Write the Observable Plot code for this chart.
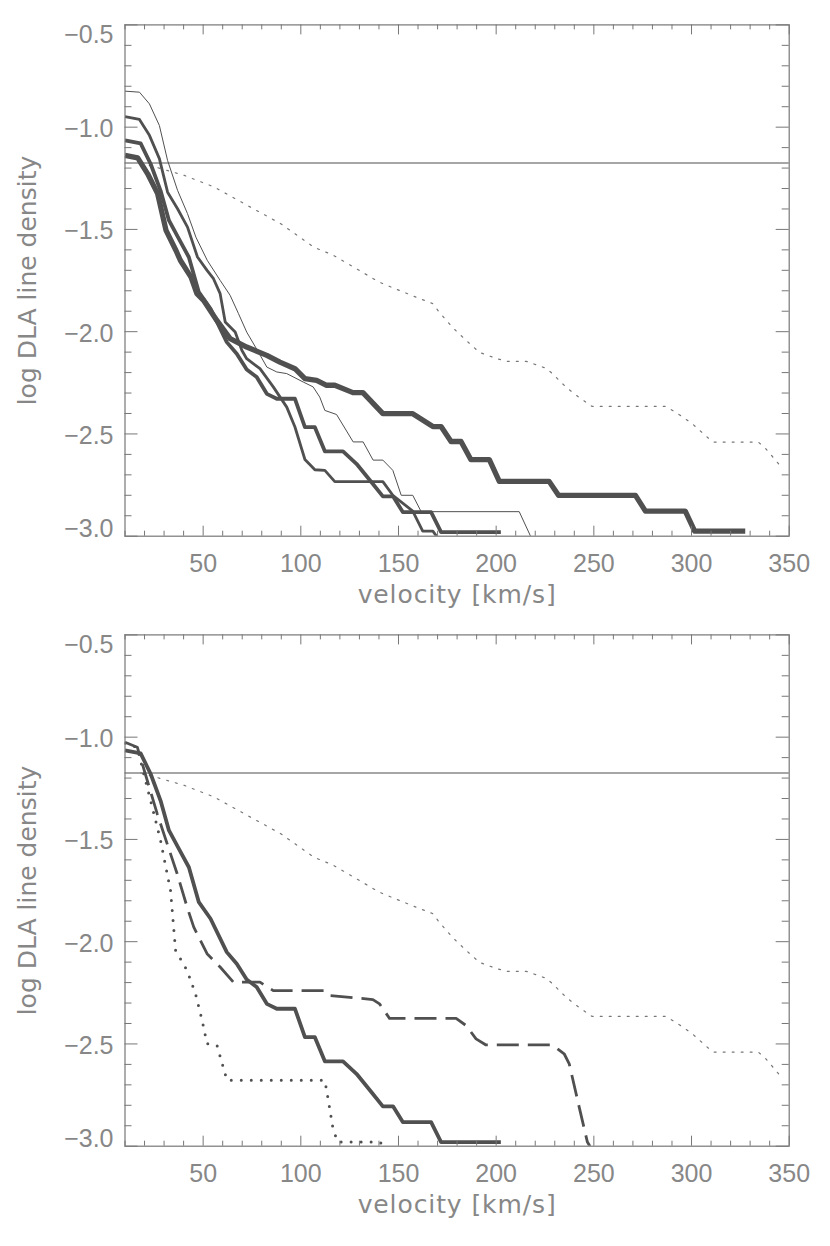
<!DOCTYPE html>
<html><head><meta charset="utf-8">
<script src="https://cdn.jsdelivr.net/npm/d3@7"></script>
<script src="https://cdn.jsdelivr.net/npm/@observablehq/plot@0.6"></script>
<style>body{margin:0;background:#fff} svg{display:block}</style>
</head><body><div id="c"></div>
<script>
// axes
const xDomain = [10, 350];
const yDomain = [-3.0, -0.5];
const xLabels = [50, 100, 150, 200, 250, 300, 350];
const xMinor = d3.range(10, 351, 10).filter(v => v % 50 !== 0);
const yMajor = [-3.0, -2.5, -2.0, -1.5, -1.0, -0.5];
const yMinor = d3.range(-29, -4, 1).map(v => v / 10).filter(v => Math.round(v * 10) % 5 !== 0);
const xTitle = "velocity [km/s]";
const yTitle = "log DLA line density";
const hLineY = -1.175;

// observed (thin dotted) curve, both panels
const obsV = [18, 26.7, 40.4, 55.7, 72.7, 89.7, 106.7, 116.4, 140.4, 159.2, 167.4, 171.0, 177.6, 184.7, 191.4, 200.0, 205.2, 215.4, 225.6, 228.7, 235.8, 242.4, 249.0, 252.6, 286.8, 291.9, 300.1, 308.7, 311.3, 334.2, 337.8, 346.0];
const obsY = [-1.175, -1.198, -1.236, -1.293, -1.383, -1.472, -1.587, -1.625, -1.759, -1.832, -1.862, -1.906, -1.979, -2.043, -2.101, -2.131, -2.145, -2.145, -2.179, -2.204, -2.272, -2.321, -2.365, -2.365, -2.365, -2.394, -2.448, -2.521, -2.540, -2.540, -2.570, -2.662];

// top panel models
const s1V = [10, 17.4, 22.5, 27.6, 31.8, 36.9, 42.0, 46.3, 52.1, 58.7, 63.8, 68.1, 72.3, 78.3, 82.6, 87.7, 92.8, 101.2, 106.3, 109.7, 112.3, 118.3, 126.8, 131.9, 137.0, 142.0, 147.1, 151.4, 157.3, 161.6, 211.8, 217.6];
const s1Y = [-0.824, -0.829, -0.886, -0.992, -1.163, -1.309, -1.423, -1.538, -1.651, -1.749, -1.822, -1.912, -2.002, -2.100, -2.173, -2.197, -2.205, -2.246, -2.270, -2.320, -2.385, -2.405, -2.539, -2.539, -2.628, -2.628, -2.678, -2.800, -2.800, -2.880, -2.880, -3.0];

const s2V = [10, 17.4, 22.5, 27.6, 31.8, 36.9, 42.0, 47.1, 52.0, 55.3, 58.7, 61.3, 66.4, 69.8, 72.3, 79.1, 85.9, 92.8, 97.0, 102.1, 107.2, 112.3, 117.4, 142.0, 147.1, 157.3, 162.4, 167.6, 169.5];
const s2Y = [-0.948, -0.962, -1.040, -1.154, -1.318, -1.399, -1.489, -1.635, -1.700, -1.741, -1.814, -1.953, -2.002, -2.091, -2.132, -2.181, -2.270, -2.369, -2.466, -2.625, -2.675, -2.678, -2.733, -2.733, -2.800, -2.877, -2.975, -2.975, -3.0];

const s3V = [10, 18.0, 23.1, 28.2, 32.5, 37.6, 42.7, 47.8, 53.8, 62.1, 67.2, 72.3, 77.4, 82.6, 87.7, 97.0, 102.1, 107.2, 112.3, 121.6, 128.5, 136.2, 142.0, 147.2, 152.2, 166.7, 171.8, 202.4];
const s3Y = [-1.065, -1.079, -1.179, -1.310, -1.456, -1.546, -1.636, -1.807, -1.888, -2.051, -2.108, -2.185, -2.222, -2.304, -2.328, -2.328, -2.467, -2.467, -2.585, -2.585, -2.646, -2.736, -2.805, -2.805, -2.882, -2.882, -2.980, -2.980];

const s4V = [10, 16.5, 21.6, 26.7, 31.0, 36.1, 38.3, 43.8, 46.8, 50.2, 57.0, 63.8, 72.3, 82.6, 89.3, 97.0, 102.1, 108.1, 113.2, 117.4, 126.7, 131.8, 142.0, 157.3, 167.6, 171.8, 176.9, 182.0, 187.1, 196.5, 201.6, 227.1, 231.9, 271.3, 276.4, 296.8, 301.6, 327.5];
const s4Y = [-1.138, -1.150, -1.228, -1.325, -1.505, -1.603, -1.651, -1.733, -1.814, -1.847, -1.945, -2.034, -2.075, -2.116, -2.149, -2.181, -2.230, -2.238, -2.262, -2.262, -2.298, -2.298, -2.401, -2.401, -2.464, -2.464, -2.537, -2.537, -2.626, -2.626, -2.732, -2.732, -2.800, -2.800, -2.877, -2.877, -2.975, -2.975];

// bottom panel models
const dashV = [10, 16.3, 21.4, 26.5, 31.6, 36.7, 41.8, 45.2, 52.0, 58.8, 65.5, 79.1, 85.9, 112.3, 114.9, 136.9, 140.3, 145.4, 179.5, 184.6, 189.7, 194.8, 228.8, 234.8, 237.4, 242.5, 246.7, 248.0];
const dashY = [-1.025, -1.049, -1.212, -1.375, -1.522, -1.668, -1.831, -1.929, -2.059, -2.125, -2.198, -2.198, -2.239, -2.239, -2.263, -2.283, -2.304, -2.375, -2.375, -2.410, -2.475, -2.505, -2.505, -2.548, -2.597, -2.809, -2.980, -3.0];

const dotV = [10, 16.3, 19.6, 23.1, 28.2, 33.3, 35.9, 41.8, 46.1, 49.5, 52.0, 57.1, 62.2, 112.3, 114.1, 116.6, 119.1, 140.4, 143.0];
const dotY = [-1.030, -1.050, -1.179, -1.310, -1.505, -1.750, -2.043, -2.141, -2.255, -2.385, -2.499, -2.507, -2.678, -2.678, -2.776, -2.922, -2.980, -2.980, -3.0];

const zip = (V, Y) => V.map((v, i) => ({v, y: Y[i]}));

const frameCol = "#777";
const textCol = "#878787";
const lineCol = "#505050";

function panel(series) {
  const marks = [
    Plot.line(zip(obsV, obsY), {x: "v", y: "y", stroke: "#777", strokeWidth: 1.2, strokeDasharray: "2,7", clip: true}),
    Plot.ruleY([hLineY], {stroke: "#888", strokeWidth: 1.5}),
  ];
  for (const s of series) {
    marks.push(Plot.line(zip(s.V, s.Y), {x: "v", y: "y", stroke: lineCol, strokeWidth: s.w,
      strokeDasharray: s.dash || null, strokeLinecap: s.cap || "butt", strokeLinejoin: "round", clip: true}));
  }
  const yLab = d => "\u2212" + Math.abs(d).toFixed(1);
  const tf = {fontFamily: "Liberation Sans", fontSize: 25, fill: textCol};
  marks.push(
    Plot.frame({stroke: frameCol, strokeWidth: 1.2}),
    Plot.ruleX(xLabels, {x: d => d, y1: () => yDomain[0], y2: () => yDomain[0], insetTop: -10, stroke: frameCol}),
    Plot.ruleX(xMinor, {x: d => d, y1: () => yDomain[0], y2: () => yDomain[0], insetTop: -5, stroke: frameCol}),
    Plot.ruleX(xLabels, {x: d => d, y1: () => yDomain[1], y2: () => yDomain[1], insetBottom: -10, stroke: frameCol}),
    Plot.ruleX(xMinor, {x: d => d, y1: () => yDomain[1], y2: () => yDomain[1], insetBottom: -5, stroke: frameCol}),
    Plot.ruleY(yMajor, {y: d => d, x1: () => xDomain[0], x2: () => xDomain[0], insetRight: -13, stroke: frameCol}),
    Plot.ruleY(yMinor, {y: d => d, x1: () => xDomain[0], x2: () => xDomain[0], insetRight: -7, stroke: frameCol}),
    Plot.ruleY(yMajor, {y: d => d, x1: () => xDomain[1], x2: () => xDomain[1], insetLeft: -13, stroke: frameCol}),
    Plot.ruleY(yMinor, {y: d => d, x1: () => xDomain[1], x2: () => xDomain[1], insetLeft: -7, stroke: frameCol}),
    Plot.text(xLabels, {x: d => d, frameAnchor: "bottom", lineAnchor: "middle", textAnchor: "middle", dy: 28,
      text: d => String(d), ...tf}),
    Plot.text(yMajor.slice(1, -1), {y: d => d, frameAnchor: "left", lineAnchor: "middle", dx: -11.5, dy: 2, textAnchor: "end",
      text: yLab, ...tf}),
    Plot.text(yMajor.slice(0, 1), {y: d => d, frameAnchor: "left", lineAnchor: "middle", dx: -11.5, dy: -7, textAnchor: "end",
      text: yLab, ...tf}),
    Plot.text(yMajor.slice(-1), {y: d => d, frameAnchor: "left", lineAnchor: "middle", dx: -11.5, dy: 10, textAnchor: "end",
      text: yLab, ...tf}),
    Plot.text([xTitle], {frameAnchor: "bottom", lineAnchor: "middle", textAnchor: "middle", dy: 59, text: d => d,
      fontFamily: "DejaVu Sans", fontSize: 25, fill: textCol}),
    Plot.text([yTitle], {frameAnchor: "left", lineAnchor: "middle", textAnchor: "middle", dx: -97.5, rotate: -90, text: d => d,
      fontFamily: "DejaVu Sans", fontSize: 25, fill: textCol})
  );
  const svg = Plot.plot({
    width: 830, height: 610,
    marginLeft: 124.5, marginRight: 41.3, marginTop: 24.4, marginBottom: 74.3,
    x: {domain: xDomain, axis: null},
    y: {domain: yDomain, axis: null},
    style: {background: "#fff", overflow: "visible"},
    marks
  });
  d3.select(svg).selectAll("text").filter(function () { return this.textContent === xTitle; })
    .style("letter-spacing", "0.9px");
  return svg;
}

const topPanel = panel([
  {V: s1V, Y: s1Y, w: 1},
  {V: s2V, Y: s2Y, w: 2.8},
  {V: s3V, Y: s3Y, w: 3.8},
  {V: s4V, Y: s4Y, w: 5.3}
]);
const bottomPanel = panel([
  {V: s3V, Y: s3Y, w: 3.8},
  {V: dashV, Y: dashY, w: 2.8, dash: "22,9"},
  {V: dotV, Y: dotY, w: 3, dash: "0,10", cap: "round"}
]);
const c = document.getElementById("c");
c.appendChild(topPanel);
c.appendChild(bottomPanel);
</script>
</body></html>
